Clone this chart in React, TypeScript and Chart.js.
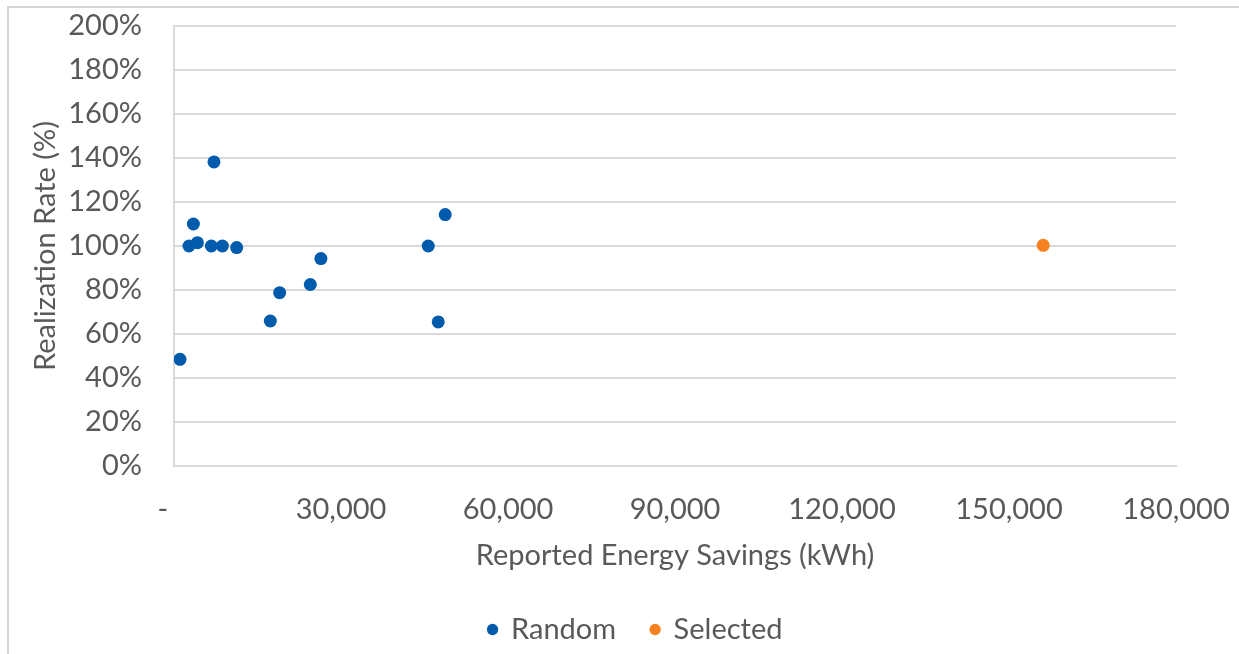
import React, { useEffect, useRef } from "react";
import { Chart, registerables } from "chart.js";

Chart.register(...registerables);

// Reported energy savings (kWh) and realization rate (%) per project
const randomSavings = [1077, 2693, 3483, 4201, 6714, 7181, 8689, 11257, 17307, 18977, 24488, 26391, 45673, 47468, 48725];
const randomRate = [48.5, 100, 110, 101.5, 100, 138.2, 100, 99.3, 65.9, 78.8, 82.5, 94.3, 100, 65.5, 114.3];
const selectedSavings = [156140];
const selectedRate = [100.3];

const seriesNames = ["Random", "Selected"];
const xTitle = "Reported Energy Savings (kWh)";
const yTitle = "Realization Rate (%)";

const X_MIN = 0;
const X_MAX = 180000;
const X_STEP = 30000;
const Y_MIN = 0;
const Y_MAX = 200;
const Y_STEP = 20;

// Accounting-style zero label (dash followed by padding spaces)
const ZERO_LABEL = "-   ";

const FONT = "Lato, 'Open Sans', sans-serif";
const FONT_SIZE = 29;
const TEXT = "#595959";
const GRID = "#d9d9d9";
const BLUE = "#005bac";
const ORANGE = "#f5821f";

const W = 1230;
const H = 646;
const LEGEND_SHIFT = 35;

const toPoints = (xs: number[], ys: number[]) => xs.map((x, i) => ({ x, y: ys[i] }));

// Nudge the centred legend row to the right of the canvas centre
const legendOffset = {
  id: "legendOffset",
  afterLayout(chart: any) {
    if (chart.legend) {
      chart.legend.left += LEGEND_SHIFT;
      chart.legend.right += LEGEND_SHIFT;
    }
  },
};

export default function App() {
  const canvasRef = useRef<HTMLCanvasElement | null>(null);

  useEffect(() => {
    const canvas = canvasRef.current;
    if (!canvas) return;
    const chart = new Chart(canvas, {
      type: "scatter",
      data: {
        datasets: [
          {
            label: seriesNames[0],
            data: toPoints(randomSavings, randomRate),
            backgroundColor: BLUE,
            borderColor: BLUE,
            borderWidth: 0,
            pointRadius: 6.5,
            pointHoverRadius: 6.5,
          },
          {
            label: seriesNames[1],
            data: toPoints(selectedSavings, selectedRate),
            backgroundColor: ORANGE,
            borderColor: ORANGE,
            borderWidth: 0,
            pointRadius: 6.5,
            pointHoverRadius: 6.5,
          },
        ],
      },
      options: {
        responsive: false,
        animation: false,
        devicePixelRatio: 1,
        layout: { padding: { left: 16, right: 63, top: 18, bottom: 0 } },
        plugins: {
          tooltip: { enabled: false },
          legend: {
            position: "bottom",
            labels: {
              usePointStyle: true,
              pointStyle: "circle",
              boxWidth: 8,
              boxHeight: 8,
              padding: 35,
              color: TEXT,
              font: { family: FONT, size: FONT_SIZE },
            },
          },
        },
        scales: {
          x: {
            type: "linear",
            min: X_MIN,
            max: X_MAX,
            afterFit: (scale: any) => {
              scale.height = 114;
              scale.paddingLeft = 0;
              scale.paddingRight = 0;
            },
            ticks: {
              stepSize: X_STEP,
              padding: 26,
              color: TEXT,
              font: { family: FONT, size: FONT_SIZE },
              maxRotation: 0,
              callback: (v: any) => (Number(v) === 0 ? ZERO_LABEL : Number(v).toLocaleString("en-US")),
            },
            grid: { display: false, drawTicks: false },
            border: { display: true, color: GRID, width: 2 },
            title: {
              display: true,
              text: xTitle,
              color: TEXT,
              font: { family: FONT, size: FONT_SIZE },
              padding: { top: 0, bottom: 7 },
            },
          },
          y: {
            type: "linear",
            min: Y_MIN,
            max: Y_MAX,
            afterFit: (scale: any) => {
              scale.width = 149;
              scale.paddingTop = 0;
              scale.paddingBottom = 0;
            },
            ticks: {
              stepSize: Y_STEP,
              padding: 32,
              color: TEXT,
              font: { family: FONT, size: FONT_SIZE },
              callback: (v: any) => `${v}%`,
            },
            grid: { color: GRID, lineWidth: 2, drawTicks: false },
            border: { display: true, color: GRID, width: 2 },
            title: {
              display: true,
              text: yTitle,
              color: TEXT,
              font: { family: FONT, size: FONT_SIZE },
              padding: { top: 3, bottom: 0 },
            },
          },
        },
      },
      plugins: [legendOffset],
    });
    return () => chart.destroy();
  }, []);

  return (
    <div
      style={{
        position: "fixed",
        left: 7,
        top: 6,
        width: W,
        height: H,
        borderLeft: "2px solid #d4d4d4",
        borderTop: "2px solid #d4d4d4",
        background: "#fff",
      }}
    >
      <canvas ref={canvasRef} width={W} height={H} style={{ display: "block", width: W, height: H }} />
    </div>
  );
}
